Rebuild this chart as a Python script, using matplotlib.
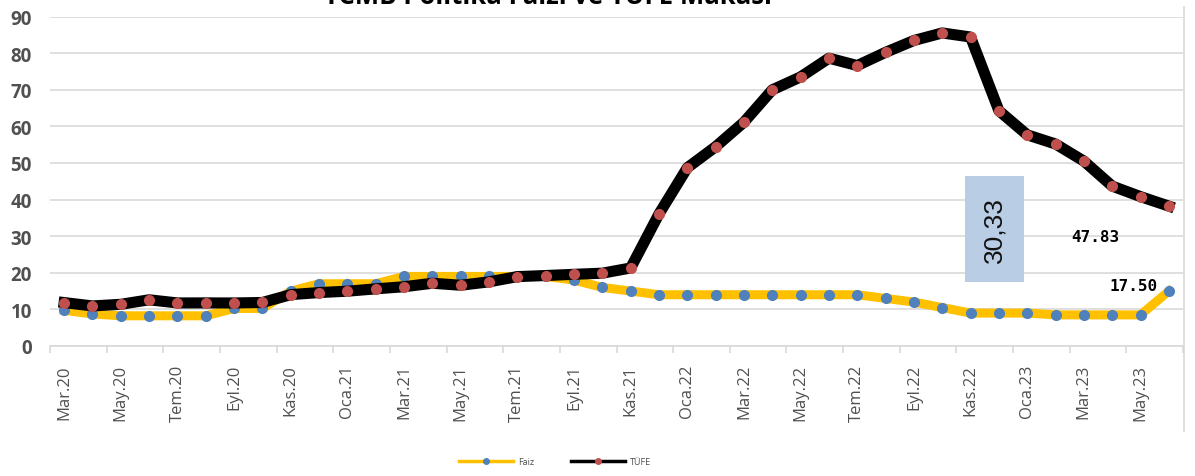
import matplotlib
matplotlib.use("Agg")
import matplotlib.pyplot as plt
from matplotlib.patches import Rectangle
from matplotlib.lines import Line2D

months = ["Mar.20", "Nis.20", "May.20", "Haz.20", "Tem.20", "Ağu.20", "Eyl.20", "Eki.20", "Kas.20", "Ara.20",
          "Oca.21", "Şub.21", "Mar.21", "Nis.21", "May.21", "Haz.21", "Tem.21", "Ağu.21", "Eyl.21", "Eki.21",
          "Kas.21", "Ara.21", "Oca.22", "Şub.22", "Mar.22", "Nis.22", "May.22", "Haz.22", "Tem.22", "Ağu.22",
          "Eyl.22", "Eki.22", "Kas.22", "Ara.22", "Oca.23", "Şub.23", "Mar.23", "Nis.23", "May.23", "Haz.23"]

faiz = [9.75, 8.75, 8.25, 8.25, 8.25, 8.25, 10.25, 10.25, 15, 17,
        17, 17, 19, 19, 19, 19, 19, 19, 18, 16,
        15, 14, 14, 14, 14, 14, 14, 14, 14, 13,
        12, 10.5, 9, 9, 9, 8.5, 8.5, 8.5, 8.5, 15]

tufe = [11.86, 10.94, 11.39, 12.62, 11.76, 11.77, 11.75, 11.89, 14.03, 14.60,
        14.97, 15.61, 16.19, 17.14, 16.59, 17.53, 18.95, 19.25, 19.58, 19.89,
        21.31, 36.08, 48.69, 54.44, 61.14, 69.97, 73.50, 78.62, 76.6, 80.21,
        83.45, 85.51, 84.39, 64.27, 57.68, 55.18, 50.51, 43.68, 40.8, 38.21]

title = "TCMB Politika Faizi ve TÜFE Makası"
box_label = "30,33"
note1 = "47.83"
note2 = "17.50"

YELLOW = "#FFC000"
BLUE = "#4F81BD"
RED = "#C0504D"
GRAY = "#505050"
GRID = "#D9D9D9"

plt.rcParams['font.family'] = ['Open Sans', 'DejaVu Sans']

fig = plt.figure(figsize=(11.95, 4.77), dpi=100)
ax = fig.add_axes([50/1195, 1-347/477, (1183-50)/1195, (347-17.5)/477])

x = list(range(len(months)))
ax.plot(x, faiz, color=YELLOW, lw=6.5, marker='o', ms=7, mfc=BLUE, mec=BLUE,
        solid_joinstyle='round', zorder=3)
ax.plot(x, tufe, color='black', lw=8, marker='o', ms=7, mfc=RED, mec=RED,
        solid_joinstyle='round', zorder=4)

ax.set_xlim(-0.5, len(months) - 0.5)
ax.set_ylim(0, 90)
ax.set_yticks(range(0, 91, 10))
ax.yaxis.grid(True, color=GRID, lw=1.2)
ax.set_axisbelow(True)
for s in ['top', 'left', 'right']:
    ax.spines[s].set_visible(False)
ax.spines['bottom'].set_color(GRID)
ax.spines['bottom'].set_linewidth(1.2)

ax.tick_params(axis='y', length=0, labelsize=13.5, labelcolor=GRAY, pad=13)
for lab in ax.get_yticklabels():
    lab.set_fontweight('bold')

ax.set_xticks(x[::2])
ax.set_xticklabels(months[::2], rotation=90, fontsize=12, color=GRAY)
ax.set_xticks([i - 0.5 for i in range(0, len(months) + 1, 2)], minor=True)
ax.tick_params(axis='x', which='major', length=0, pad=13)
ax.tick_params(axis='x', which='minor', length=5, color=GRID, width=1.2)

# annotation box
ax.add_patch(Rectangle((31.8, 17.6), 2.1, 28.8, facecolor="#B9CDE5", edgecolor='none', zorder=2))
ax.text(32.85, 32, box_label, rotation=90, ha='center', va='center', fontsize=19,
        family=['Liberation Sans Narrow', 'Liberation Sans', 'DejaVu Sans'], color='#111111', zorder=5)
ax.text(36.4, 30.0, note1, ha='center', va='center', fontsize=11.5, fontweight='bold',
        family=['DejaVu Sans Mono'], color='black', zorder=5)
ax.text(37.75, 16.4, note2, ha='center', va='center', fontsize=11.5, fontweight='bold',
        family=['DejaVu Sans Mono'], color='black', zorder=5)

# title (partly cut at top, as in the source image)
fig.text(548/1195, 1 + 3/477, title, ha='center', va='center', fontsize=18.5, fontweight='bold', color='black')

# right frame line
fig.add_artist(Line2D([1184/1195, 1184/1195], [1-8/477, 1-432/477], color=GRID, lw=1.2))

handles = [Line2D([], [], color=YELLOW, lw=2.5, marker='o', ms=4, mfc=BLUE, mec=BLUE),
           Line2D([], [], color='black', lw=2.5, marker='o', ms=4, mfc=RED, mec=RED)]
fig.legend(handles, ["Faiz", "TÜFE"], loc='center', bbox_to_anchor=(555/1195, 1-463/477), ncol=2,
           frameon=False, fontsize=6.5, handlelength=6, columnspacing=4, labelcolor=GRAY, handletextpad=0.6)

fig.savefig("out.png", dpi=100)
